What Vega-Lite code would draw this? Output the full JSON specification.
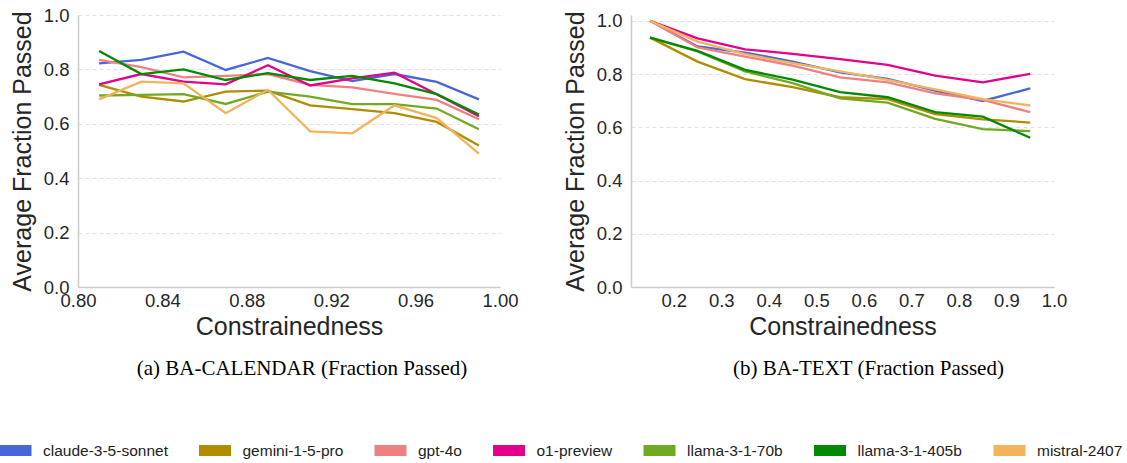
{
  "$schema": "https://vega.github.io/schema/vega-lite/v6.json",
  "padding": {"left": -6, "top": 6, "right": 0, "bottom": 0},
  "background": "white",
  "config": {
    "view": {"stroke": null},
    "axis": {
      "labelFont": "Liberation Sans",
      "labelFontSize": 18.5,
      "labelColor": "#262626",
      "titleFont": "Liberation Sans",
      "titleFontSize": 25,
      "titleFontWeight": "normal",
      "titleColor": "#262626",
      "domainColor": "#cccccc",
      "domainWidth": 1.6,
      "ticks": false,
      "gridColor": "#dddddd",
      "gridDash": [4, 3],
      "gridWidth": 0.9
    },
    "axisX": {"grid": false, "labelPadding": 4, "titlePadding": 5, "labelFlush": false},
    "axisY": {"grid": true, "labelPadding": 9, "titlePadding": 8},
    "title": {"font": "Liberation Serif", "fontSize": 21, "fontWeight": "normal", "color": "#000000", "orient": "bottom", "anchor": "middle", "offset": 18}
  },
  "datasets": {
    "cal": [
      {"model": "claude-3-5-sonnet", "c": 0.81, "v": 0.822}, {"model": "claude-3-5-sonnet", "c": 0.83, "v": 0.835}, {"model": "claude-3-5-sonnet", "c": 0.85, "v": 0.865}, {"model": "claude-3-5-sonnet", "c": 0.87, "v": 0.798}, {"model": "claude-3-5-sonnet", "c": 0.89, "v": 0.842}, {"model": "claude-3-5-sonnet", "c": 0.91, "v": 0.794}, {"model": "claude-3-5-sonnet", "c": 0.93, "v": 0.757}, {"model": "claude-3-5-sonnet", "c": 0.95, "v": 0.783}, {"model": "claude-3-5-sonnet", "c": 0.97, "v": 0.754}, {"model": "claude-3-5-sonnet", "c": 0.99, "v": 0.690},
      {"model": "gemini-1-5-pro", "c": 0.81, "v": 0.743}, {"model": "gemini-1-5-pro", "c": 0.83, "v": 0.700}, {"model": "gemini-1-5-pro", "c": 0.85, "v": 0.682}, {"model": "gemini-1-5-pro", "c": 0.87, "v": 0.718}, {"model": "gemini-1-5-pro", "c": 0.89, "v": 0.722}, {"model": "gemini-1-5-pro", "c": 0.91, "v": 0.668}, {"model": "gemini-1-5-pro", "c": 0.93, "v": 0.654}, {"model": "gemini-1-5-pro", "c": 0.95, "v": 0.639}, {"model": "gemini-1-5-pro", "c": 0.97, "v": 0.607}, {"model": "gemini-1-5-pro", "c": 0.99, "v": 0.520},
      {"model": "gpt-4o", "c": 0.81, "v": 0.835}, {"model": "gpt-4o", "c": 0.83, "v": 0.808}, {"model": "gpt-4o", "c": 0.85, "v": 0.771}, {"model": "gpt-4o", "c": 0.87, "v": 0.776}, {"model": "gpt-4o", "c": 0.89, "v": 0.783}, {"model": "gpt-4o", "c": 0.91, "v": 0.743}, {"model": "gpt-4o", "c": 0.93, "v": 0.734}, {"model": "gpt-4o", "c": 0.95, "v": 0.710}, {"model": "gpt-4o", "c": 0.97, "v": 0.688}, {"model": "gpt-4o", "c": 0.99, "v": 0.617},
      {"model": "o1-preview", "c": 0.81, "v": 0.745}, {"model": "o1-preview", "c": 0.83, "v": 0.783}, {"model": "o1-preview", "c": 0.85, "v": 0.755}, {"model": "o1-preview", "c": 0.87, "v": 0.745}, {"model": "o1-preview", "c": 0.89, "v": 0.815}, {"model": "o1-preview", "c": 0.91, "v": 0.741}, {"model": "o1-preview", "c": 0.93, "v": 0.767}, {"model": "o1-preview", "c": 0.95, "v": 0.788}, {"model": "o1-preview", "c": 0.97, "v": 0.709}, {"model": "o1-preview", "c": 0.99, "v": 0.628},
      {"model": "llama-3-1-70b", "c": 0.81, "v": 0.704}, {"model": "llama-3-1-70b", "c": 0.83, "v": 0.706}, {"model": "llama-3-1-70b", "c": 0.85, "v": 0.709}, {"model": "llama-3-1-70b", "c": 0.87, "v": 0.673}, {"model": "llama-3-1-70b", "c": 0.89, "v": 0.718}, {"model": "llama-3-1-70b", "c": 0.91, "v": 0.700}, {"model": "llama-3-1-70b", "c": 0.93, "v": 0.672}, {"model": "llama-3-1-70b", "c": 0.95, "v": 0.672}, {"model": "llama-3-1-70b", "c": 0.97, "v": 0.656}, {"model": "llama-3-1-70b", "c": 0.99, "v": 0.580},
      {"model": "llama-3-1-405b", "c": 0.81, "v": 0.868}, {"model": "llama-3-1-405b", "c": 0.83, "v": 0.783}, {"model": "llama-3-1-405b", "c": 0.85, "v": 0.800}, {"model": "llama-3-1-405b", "c": 0.87, "v": 0.761}, {"model": "llama-3-1-405b", "c": 0.89, "v": 0.786}, {"model": "llama-3-1-405b", "c": 0.91, "v": 0.761}, {"model": "llama-3-1-405b", "c": 0.93, "v": 0.776}, {"model": "llama-3-1-405b", "c": 0.95, "v": 0.749}, {"model": "llama-3-1-405b", "c": 0.97, "v": 0.709}, {"model": "llama-3-1-405b", "c": 0.99, "v": 0.634},
      {"model": "mistral-2407", "c": 0.81, "v": 0.690}, {"model": "mistral-2407", "c": 0.83, "v": 0.755}, {"model": "mistral-2407", "c": 0.85, "v": 0.749}, {"model": "mistral-2407", "c": 0.87, "v": 0.639}, {"model": "mistral-2407", "c": 0.89, "v": 0.725}, {"model": "mistral-2407", "c": 0.91, "v": 0.572}, {"model": "mistral-2407", "c": 0.93, "v": 0.565}, {"model": "mistral-2407", "c": 0.95, "v": 0.668}, {"model": "mistral-2407", "c": 0.97, "v": 0.621}, {"model": "mistral-2407", "c": 0.99, "v": 0.490}
    ],
    "text": [
      {"model": "claude-3-5-sonnet", "c": 0.15, "v": 1.0}, {"model": "claude-3-5-sonnet", "c": 0.25, "v": 0.904}, {"model": "claude-3-5-sonnet", "c": 0.35, "v": 0.881}, {"model": "claude-3-5-sonnet", "c": 0.45, "v": 0.847}, {"model": "claude-3-5-sonnet", "c": 0.55, "v": 0.806}, {"model": "claude-3-5-sonnet", "c": 0.65, "v": 0.782}, {"model": "claude-3-5-sonnet", "c": 0.75, "v": 0.738}, {"model": "claude-3-5-sonnet", "c": 0.85, "v": 0.699}, {"model": "claude-3-5-sonnet", "c": 0.95, "v": 0.746},
      {"model": "gemini-1-5-pro", "c": 0.15, "v": 0.937}, {"model": "gemini-1-5-pro", "c": 0.25, "v": 0.847}, {"model": "gemini-1-5-pro", "c": 0.35, "v": 0.781}, {"model": "gemini-1-5-pro", "c": 0.45, "v": 0.751}, {"model": "gemini-1-5-pro", "c": 0.55, "v": 0.713}, {"model": "gemini-1-5-pro", "c": 0.65, "v": 0.706}, {"model": "gemini-1-5-pro", "c": 0.75, "v": 0.650}, {"model": "gemini-1-5-pro", "c": 0.85, "v": 0.630}, {"model": "gemini-1-5-pro", "c": 0.95, "v": 0.618},
      {"model": "gpt-4o", "c": 0.15, "v": 1.0}, {"model": "gpt-4o", "c": 0.25, "v": 0.900}, {"model": "gpt-4o", "c": 0.35, "v": 0.866}, {"model": "gpt-4o", "c": 0.45, "v": 0.832}, {"model": "gpt-4o", "c": 0.55, "v": 0.788}, {"model": "gpt-4o", "c": 0.65, "v": 0.769}, {"model": "gpt-4o", "c": 0.75, "v": 0.728}, {"model": "gpt-4o", "c": 0.85, "v": 0.703}, {"model": "gpt-4o", "c": 0.95, "v": 0.657},
      {"model": "o1-preview", "c": 0.15, "v": 1.0}, {"model": "o1-preview", "c": 0.25, "v": 0.934}, {"model": "o1-preview", "c": 0.35, "v": 0.893}, {"model": "o1-preview", "c": 0.45, "v": 0.876}, {"model": "o1-preview", "c": 0.55, "v": 0.856}, {"model": "o1-preview", "c": 0.65, "v": 0.835}, {"model": "o1-preview", "c": 0.75, "v": 0.794}, {"model": "o1-preview", "c": 0.85, "v": 0.769}, {"model": "o1-preview", "c": 0.95, "v": 0.801},
      {"model": "llama-3-1-70b", "c": 0.15, "v": 0.937}, {"model": "llama-3-1-70b", "c": 0.25, "v": 0.885}, {"model": "llama-3-1-70b", "c": 0.35, "v": 0.810}, {"model": "llama-3-1-70b", "c": 0.45, "v": 0.766}, {"model": "llama-3-1-70b", "c": 0.55, "v": 0.709}, {"model": "llama-3-1-70b", "c": 0.65, "v": 0.693}, {"model": "llama-3-1-70b", "c": 0.75, "v": 0.632}, {"model": "llama-3-1-70b", "c": 0.85, "v": 0.593}, {"model": "llama-3-1-70b", "c": 0.95, "v": 0.586},
      {"model": "llama-3-1-405b", "c": 0.15, "v": 0.937}, {"model": "llama-3-1-405b", "c": 0.25, "v": 0.887}, {"model": "llama-3-1-405b", "c": 0.35, "v": 0.816}, {"model": "llama-3-1-405b", "c": 0.45, "v": 0.779}, {"model": "llama-3-1-405b", "c": 0.55, "v": 0.732}, {"model": "llama-3-1-405b", "c": 0.65, "v": 0.713}, {"model": "llama-3-1-405b", "c": 0.75, "v": 0.657}, {"model": "llama-3-1-405b", "c": 0.85, "v": 0.640}, {"model": "llama-3-1-405b", "c": 0.95, "v": 0.561},
      {"model": "mistral-2407", "c": 0.15, "v": 1.0}, {"model": "mistral-2407", "c": 0.25, "v": 0.922}, {"model": "mistral-2407", "c": 0.35, "v": 0.875}, {"model": "mistral-2407", "c": 0.45, "v": 0.841}, {"model": "mistral-2407", "c": 0.55, "v": 0.810}, {"model": "mistral-2407", "c": 0.65, "v": 0.778}, {"model": "mistral-2407", "c": 0.75, "v": 0.743}, {"model": "mistral-2407", "c": 0.85, "v": 0.706}, {"model": "mistral-2407", "c": 0.95, "v": 0.682}
    ]
  },
  "spacing": 44,
  "hconcat": [
    {
      "width": 422,
      "height": 272,
      "data": {"name": "cal"},
      "title": {"text": "(a) BA-CALENDAR (Fraction Passed)", "dx": 13},
      "mark": {"type": "line", "strokeWidth": 2.3},
      "encoding": {
        "x": {"field": "c", "type": "quantitative", "title": "Constrainedness",
              "scale": {"domain": [0.8, 1.0], "nice": false, "zero": false},
              "axis": {"values": [0.8, 0.84, 0.88, 0.92, 0.96, 1.0], "format": ".2f"}},
        "y": {"field": "v", "type": "quantitative", "title": "Average Fraction Passed",
              "scale": {"domain": [0, 1.0], "nice": false},
              "axis": {"values": [0, 0.2, 0.4, 0.6, 0.8, 1.0], "format": ".1f"}},
        "color": {"field": "model", "type": "nominal",
                  "scale": {"domain": ["claude-3-5-sonnet", "gemini-1-5-pro", "gpt-4o", "o1-preview", "llama-3-1-70b", "llama-3-1-405b", "mistral-2407"],
                            "range": ["#4766d9", "#b08d00", "#f08080", "#e3008a", "#72a923", "#008a00", "#f2b35a"]},
                  "legend": {"orient": "none", "legendX": -84, "legendY": 414, "direction": "horizontal", "title": null,
                             "gridAlign": "none",
                             "symbolType": "stroke", "symbolSize": 1024, "symbolStrokeWidth": 11,
                             "labelFont": "Liberation Sans", "labelFontSize": 15.5, "labelColor": "#222222",
                             "labelOffset": 6, "columnPadding": 8.5}}
      }
    },
    {
      "width": 423,
      "height": 272,
      "data": {"name": "text"},
      "title": {"text": "(b) BA-TEXT (Fraction Passed)", "dx": 26},
      "mark": {"type": "line", "strokeWidth": 2.3},
      "encoding": {
        "x": {"field": "c", "type": "quantitative", "title": "Constrainedness",
              "scale": {"domain": [0.11, 1.0], "nice": false, "zero": false},
              "axis": {"values": [0.2, 0.3, 0.4, 0.5, 0.6, 0.7, 0.8, 0.9, 1.0], "format": ".1f"}},
        "y": {"field": "v", "type": "quantitative", "title": "Average Fraction Passed",
              "scale": {"domain": [0, 1.022], "nice": false},
              "axis": {"values": [0, 0.2, 0.4, 0.6, 0.8, 1.0], "format": ".1f"}},
        "color": {"field": "model", "type": "nominal"}
      }
    }
  ]
}
